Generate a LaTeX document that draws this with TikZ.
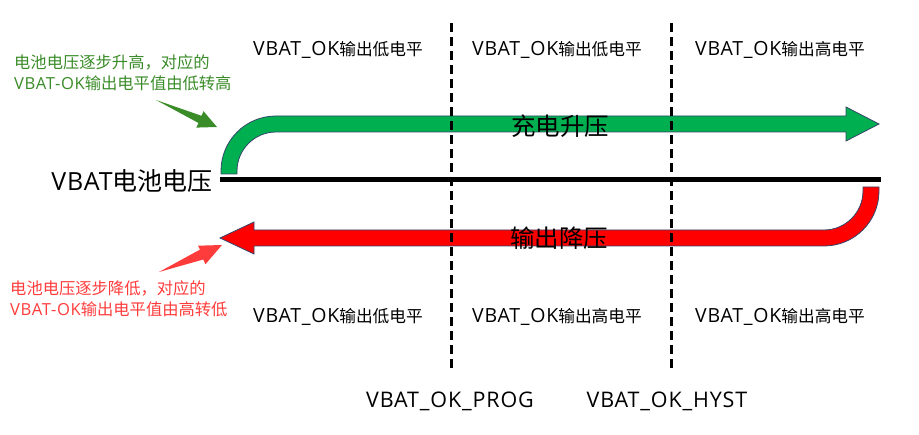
\documentclass[tikz,border=0pt]{standalone}
\usepackage{fontspec}
\setmainfont{Noto Sans CJK SC}
\newfontfamily\latf{Open Sans}[LetterSpace=4]
\newcommand\latpart[2]{{\latf\fontsize{#1}{#1}\selectfont #2}}
\definecolor{arrgreen}{RGB}{0,176,80}
\definecolor{arrred}{RGB}{255,0,0}
\definecolor{edgeblue}{RGB}{50,70,105}
\definecolor{notegreen}{RGB}{58,140,40}
\definecolor{notered}{RGB}{255,60,60}
\begin{document}
\begin{tikzpicture}[x=1pt,y=-1pt,
  uturn/.style={draw=edgeblue,line width=0.8pt,line join=miter},
  levellbl/.style={font=\fontsize{16.7}{20}\selectfont,inner sep=0pt},
  biglbl/.style={font=\fontsize{21}{24}\selectfont,inner sep=0pt},
  flowlbl/.style={font=\fontsize{24.5}{26}\selectfont,inner sep=0pt},
  notelbl/.style={font=\fontsize{16.3}{21.5}\selectfont,inner sep=0pt,align=left,anchor=west},
  thresh/.style={line width=3pt,dash pattern=on 9pt off 5pt}]
\useasboundingbox (0,0) rectangle (919,435);
% green U-turn arrow (charging)
\path[uturn,fill=arrgreen] (221,174) -- (221,171)
  .. controls (221,140.6) and (245.6,116) .. (276,116) -- (846,116) -- (846,107)
  -- (879,124) -- (846,141) -- (846,132) -- (276,132)
  .. controls (254.5,132) and (237,149.5) .. (237,171) -- (237,174) -- cycle;
% red U-turn arrow (discharging)
\path[uturn,fill=arrred] (879,187) -- (879,191)
  .. controls (879,221.4) and (854.4,246) .. (824,246) -- (254,246) -- (254,254)
  -- (220,238) -- (254,222) -- (254,230) -- (824,230)
  .. controls (845.5,230) and (863,212.5) .. (863,191) -- (863,187) -- cycle;
% battery voltage axis
\coordinate (axL) at (220,179.5);
\coordinate (axR) at (881,179.5);
\draw[line width=5.5pt] (axL) -- (axR);
% threshold dashed lines
\coordinate (p1) at (451.5,23);
\coordinate (p2) at (451.5,372);
\coordinate (h1) at (671,23);
\coordinate (h2) at (671,372);
\draw[thresh] (p1) -- (p2);
\draw[thresh] (h1) -- (h2);
% small pointer arrows
\fill[notegreen] (156,100) -- (201.5,115.8) -- (203.5,111.2) -- (217,127)
  -- (196.3,127.6) -- (198.5,123.0) -- cycle;
\fill[notered] (159,272) -- (200,249.6) -- (198,245.7) -- (222,245)
  -- (205.4,264.3) -- (203.3,259.5) -- cycle;
% labels
\node[levellbl] (t1) at (338,50) {\latpart{19.5}{VBAT\_OK}输出低电平};
\node[levellbl] (t2) at (557,50) {\latpart{19.5}{VBAT\_OK}输出低电平};
\node[levellbl] (t3) at (780,50) {\latpart{19.5}{VBAT\_OK}输出高电平};
\node[levellbl] (b1) at (338,317) {\latpart{19.5}{VBAT\_OK}输出低电平};
\node[levellbl] (b2) at (557,317) {\latpart{19.5}{VBAT\_OK}输出高电平};
\node[levellbl] (b3) at (780,317) {\latpart{19.5}{VBAT\_OK}输出高电平};
\node[flowlbl] (chg) at (560,126) {充电升压};
\node[flowlbl] (dis) at (559,238) {输出降压};
\node[biglbl,anchor=east,font=\fontsize{25}{26}\selectfont] (vbat) at (213,181) {\latpart{25}{VBAT}电池电压};
\node[biglbl] (prog) at (450,401) {\latpart{21.5}{VBAT\_OK\_PROG}};
\node[biglbl] (hyst) at (667,401) {\latpart{21.5}{VBAT\_OK\_HYST}};
\node[notelbl,text=notegreen] (ng) at (14,73) {电池电压逐步升高，对应的\\\latpart{16.6}{VBAT-OK}输出电平值由低转高};
\node[notelbl,text=notered] (nr) at (10,299) {电池电压逐步降低，对应的\\\latpart{16.6}{VBAT-OK}输出电平值由高转低};
\end{tikzpicture}
\end{document}
